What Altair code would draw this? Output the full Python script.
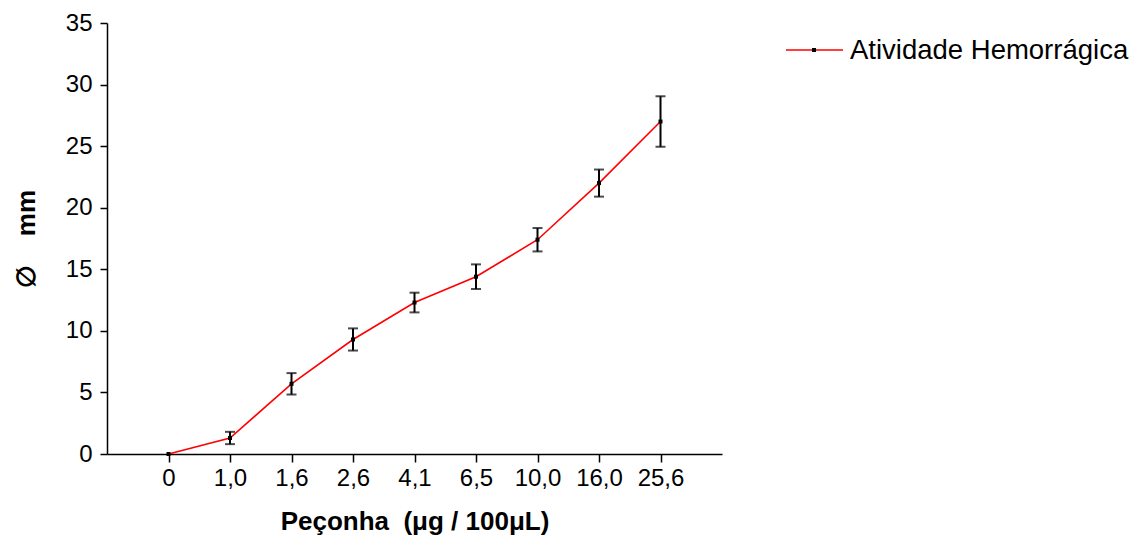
import altair as alt
import pandas as pd

doses = ["0", "1,0", "1,6", "2,6", "4,1", "6,5", "10,0", "16,0", "25,6"]
means = [0.0, 1.3, 5.7, 9.3, 12.3, 14.4, 17.4, 22.0, 27.0]
errs = [0.0, 0.5, 0.87, 0.9, 0.8, 1.0, 0.95, 1.1, 2.05]
series_name = "Atividade Hemorrágica"

df = pd.DataFrame({"dose": doses, "mean": means, "err": errs})
df["lo"] = df["mean"] - df["err"]
df["hi"] = df["mean"] + df["err"]
df_err = df[df["err"] > 0]

FONT = "Liberation Sans"
NB = "\u00a0"

x_enc = alt.X(
    "dose:N",
    sort=doses,
    scale=alt.Scale(type="point", padding=1),
    axis=alt.Axis(
        title="Peçonha" + NB + NB + "(μg / 100μL)",
        grid=False,
        labelAngle=0,
        labelFontSize=24,
        labelPadding=4,
        tickSize=8,
        titleFontSize=26,
        titleFontWeight="bold",
        titlePadding=18,
    ),
)
y_scale = alt.Scale(domain=[0, 35], nice=False)
y_axis = alt.Axis(
    title="∅" + NB * 4 + "mm",
    grid=False,
    values=[0, 5, 10, 15, 20, 25, 30, 35],
    labelFontSize=24,
    labelPadding=8,
    tickSize=7,
    titleFontSize=26,
    titleFontWeight="bold",
    titlePadding=26,
)

line = alt.Chart(df).mark_line(color="#ff0000", strokeWidth=1.6).encode(
    x=x_enc,
    y=alt.Y("mean:Q", scale=y_scale, axis=y_axis),
)

bars = alt.Chart(df_err).mark_rule(color="black", strokeWidth=2).encode(
    x=x_enc, y=alt.Y("lo:Q", scale=y_scale, axis=y_axis), y2="hi:Q"
)
cap_lo = alt.Chart(df_err).mark_tick(color="black", size=10, thickness=2).encode(
    x=x_enc, y=alt.Y("lo:Q", scale=y_scale, axis=y_axis)
)
cap_hi = alt.Chart(df_err).mark_tick(color="black", size=10, thickness=2).encode(
    x=x_enc, y=alt.Y("hi:Q", scale=y_scale, axis=y_axis)
)
pts = alt.Chart(df).mark_square(color="black", size=16, opacity=1).encode(
    x=x_enc, y=alt.Y("mean:Q", scale=y_scale, axis=y_axis)
)

one = pd.DataFrame({"k": [0]})
leg_line = alt.Chart(one).mark_rule(color="#ff0000", strokeWidth=1.6).encode(
    x=alt.value(679), x2=alt.value(736), y=alt.value(27)
)
leg_pt = alt.Chart(one).mark_square(color="black", size=16, opacity=1).encode(
    x=alt.value(707), y=alt.value(27)
)
leg_txt = alt.Chart(one).mark_text(
    align="left", baseline="middle", fontSize=27.5, font=FONT, color="black"
).encode(x=alt.value(743), y=alt.value(28), text=alt.value(series_name))

chart = (
    alt.layer(line, bars, cap_lo, cap_hi, pts, leg_line, leg_pt, leg_txt)
    .properties(
        width=615,
        height=431,
        background="white",
        autosize=alt.AutoSizeParams(type="none"),
        padding={"left": 107, "top": 23, "right": 411, "bottom": 90},
    )
    .configure_view(stroke=None, strokeWidth=0)
    .configure_axis(
        grid=False,
        domainColor="black",
        domainWidth=1.5,
        tickColor="black",
        tickWidth=1.5,
        labelColor="black",
        titleColor="black",
        labelFont=FONT,
        titleFont=FONT,
    )
)

chart.save("out.html", embed_options={"renderer": "svg", "actions": False})
